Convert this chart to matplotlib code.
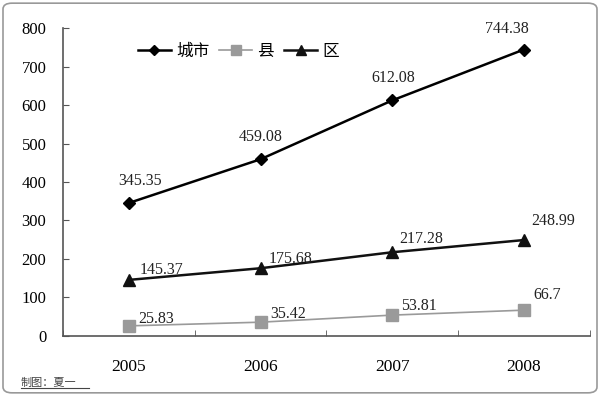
import numpy as np
import matplotlib.pyplot as plt
from matplotlib.patches import FancyBboxPatch
from matplotlib.lines import Line2D

plt.rcParams['font.family'] = ['Liberation Serif', 'Noto Sans CJK SC']

years = ['2005', '2006', '2007', '2008']
city = [345.35, 459.08, 612.08, 744.38]
county = [25.83, 35.42, 53.81, 66.7]
district = [145.37, 175.68, 217.28, 248.99]
city_lbl = ['345.35', '459.08', '612.08', '744.38']
county_lbl = ['25.83', '35.42', '53.81', '66.7']
district_lbl = ['145.37', '175.68', '217.28', '248.99']

# label offsets in points (hand placed, like the original)
city_off = [(8, 13), (0, 13), (1, 13), (-12, 12)]
district_off = [(8, 4), (6, 4), (5, 7), (5, 11)]
county_off = [(7, 2), (7, 3), (6, 4), (7, 8)]

fig = plt.figure(figsize=(6, 3.96), dpi=100)
ax = fig.add_axes([0.105, 0.152, 0.878, 0.777])

x = np.arange(len(years))
ax.plot(x, city, color='black', lw=1.8, marker='D', ms=6.5, label='城市')
ax.plot(x, county, color='#9a9a9a', lw=1.2, marker='s', ms=8.5, label='县')
ax.plot(x, district, color='#111111', lw=1.8, marker='^', ms=8.5, label='区')

for i in x:
    ax.annotate(city_lbl[i], (i, city[i]), xytext=city_off[i], textcoords='offset points',
                ha='center', va='baseline', fontsize=11.5, color='#222222')
    ax.annotate(district_lbl[i], (i, district[i]), xytext=district_off[i], textcoords='offset points',
                ha='left', va='baseline', fontsize=11.5, color='#222222')
    ax.annotate(county_lbl[i], (i, county[i]), xytext=county_off[i], textcoords='offset points',
                ha='left', va='baseline', fontsize=11.5, color='#222222')

ax.set_xlim(-0.5, 3.5)
ax.set_ylim(0, 800)
ax.set_yticks(range(0, 801, 100))
ax.set_xticks(x)
ax.set_xticklabels(years)
ax.set_xticks(np.arange(-0.5, 3.6, 1), minor=True)
ax.tick_params(axis='x', which='major', length=0, pad=17, labelsize=12.5)
ax.tick_params(axis='x', which='minor', length=4, direction='in', color='#555555')
ax.tick_params(axis='y', length=4, direction='in', pad=12, labelsize=12, color='#555555')
for s in ['top', 'right']:
    ax.spines[s].set_visible(False)
for s in ['left', 'bottom']:
    ax.spines[s].set_color('#555555')
    ax.spines[s].set_linewidth(1.2)

ax.legend(loc='upper left', bbox_to_anchor=(0.113, 1.0), ncol=3, frameon=False,
          handlelength=2.0, handletextpad=0.3, columnspacing=0.6, markerscale=0.85,
          prop={'family': ['Noto Sans CJK SC'], 'size': 12})

fig.text(0.035, 0.025, '制图：夏一', fontsize=8, color='#444444',
         family=['Noto Sans CJK SC'])
fig.add_artist(Line2D([0.035, 0.148], [0.02, 0.02], color='#444444', lw=0.8))

fig.patches.append(FancyBboxPatch((0.005, 0.008), 0.99, 0.984, boxstyle='round,pad=0,rounding_size=0.015',
                                  transform=fig.transFigure, fill=False, ec='#999999', lw=1.2))

fig.savefig('out.png')
